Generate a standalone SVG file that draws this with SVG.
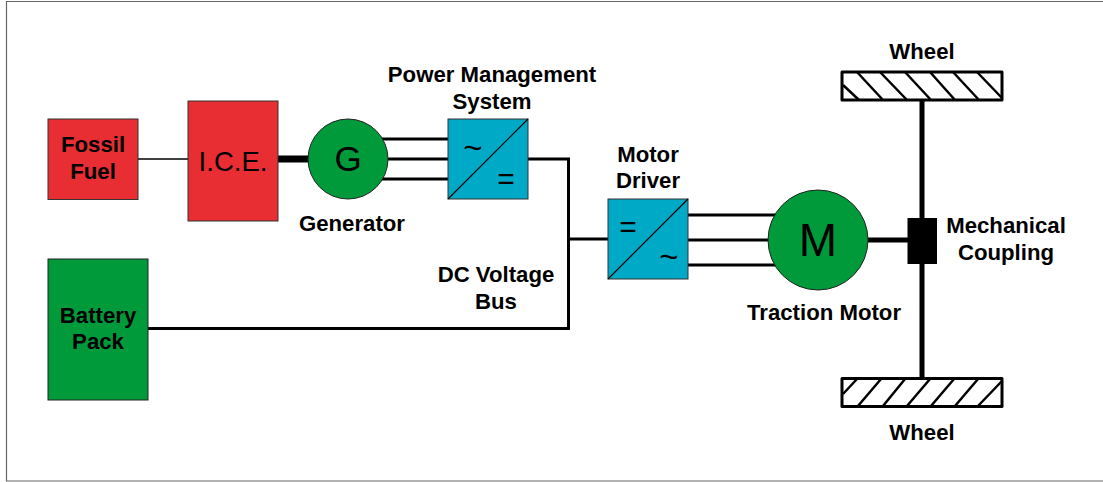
<svg xmlns="http://www.w3.org/2000/svg" width="1103" height="482" viewBox="0 0 1103 482">
<style>
text{font-family:"Liberation Sans",Arial,sans-serif;fill:#000;text-anchor:middle}
.b{font-weight:700;font-size:22.200px}
.red{fill:#e82e33;stroke:#333;stroke-width:1}
.grn{fill:#009a3a;stroke:#222;stroke-width:1}
.blu{fill:#00a9c6;stroke:#333;stroke-width:1}
.w{fill:#fff;stroke:#000;stroke-width:3;stroke-linejoin:round}
.h{stroke:#000;stroke-width:2.5;fill:none}
.l{stroke:#000;fill:none}
</style>
<rect width="1103" height="482" fill="#fff"/>
<path d="M1103 1.500H6.500V481H1103" fill="none" stroke="#666" stroke-width="1.200"/>
<g id="connectors" class="l">
<path d="M138 159H188" stroke-width="1.500"/>
<path d="M278 159H310" stroke-width="7"/>
<path d="M380 139H448M388 159H448M380 179H448" stroke-width="3"/>
<path d="M528 159H568.500V328.500H148" stroke-width="3"/>
<path d="M568 239H609" stroke-width="3"/>
<path d="M687 215H780M687 240H770M687 265H780" stroke-width="3"/>
<path d="M866 240H908" stroke-width="5"/>
<path d="M922 100V378" stroke-width="5"/>
</g>
<g id="fossil-fuel"><rect class="red" x="48" y="119" width="90" height="80.500"/><text class="b" x="93" y="152">Fossil</text><text class="b" x="93" y="179">Fuel</text></g>
<g id="ice"><rect class="red" x="188" y="101" width="90" height="120"/><text x="233" y="171" font-size="27.500">I.C.E.</text></g>
<g id="generator"><circle class="grn" cx="348" cy="159" r="40"/><text x="348" y="171" font-size="35">G</text><text class="b" x="352" y="231">Generator</text></g>
<g id="power-management"><text class="b" x="492" y="82">Power Management</text><text class="b" x="492" y="109">System</text><rect class="blu" x="448" y="119" width="80" height="80"/><path class="l" d="M448 199L528 119" stroke-width="1.200"/><text x="473" y="159" font-size="33">~</text><text x="506" y="189" font-size="30">=</text></g>
<g id="battery-pack"><rect class="grn" x="48" y="259" width="100" height="141"/><text class="b" x="98" y="323">Battery</text><text class="b" x="98" y="349">Pack</text></g>
<g id="dc-bus"><text class="b" x="496" y="282">DC Voltage</text><text class="b" x="496" y="309">Bus</text></g>
<g id="motor-driver"><text class="b" x="648" y="162">Motor</text><text class="b" x="648" y="188">Driver</text><rect class="blu" x="608" y="199" width="80" height="80"/><path class="l" d="M608 279L688 199" stroke-width="1.200"/><text x="628" y="237" font-size="30">=</text><text x="669" y="268" font-size="33">~</text></g>
<g id="traction-motor"><circle class="grn" cx="818" cy="240" r="50"/><text x="818" y="256" font-size="46">M</text><text class="b" x="824" y="320">Traction Motor</text></g>
<g id="coupling"><rect x="907.500" y="218" width="29.500" height="46" fill="#000"/><text class="b" x="1006" y="233">Mechanical</text><text class="b" x="1006" y="260">Coupling</text></g>
<g id="wheel-top"><text class="b" x="922" y="59">Wheel</text><rect class="w" x="842" y="72" width="160" height="28"/><path class="h" d="M843 85L859 100M857 72L883 100M880 72L907 100M905 72L931 100M930 72L955 100M953 72L979 100M977 72L1002 98"/></g>
<g id="wheel-bottom"><rect class="w" x="842" y="378.500" width="160" height="28"/><path class="h" d="M843 394L857 379M858 406L881 379M883 406L905 379M907 406L930 379M931 406L954 379M955 406L978 379M978 406L1002 381"/><text class="b" x="922" y="440">Wheel</text></g>
</svg>
